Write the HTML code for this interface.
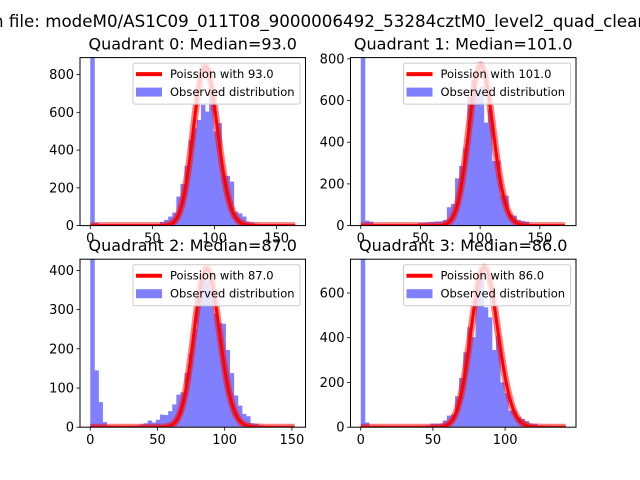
<!DOCTYPE html>
<html><head><meta charset="utf-8"><style>
html,body{margin:0;padding:0;background:#fff;overflow:hidden}
svg{display:block;font-family:"DejaVu Sans","Liberation Sans",sans-serif}
</style></head><body>
<svg id="fig" width="640" height="480" viewBox="0 0 640 480">
<rect x="0" y="0" width="640" height="480" fill="#fff"/>
<text x="-7" y="27" font-size="16.7" fill="#000">n file: modeM0/AS1C09_011T08_9000006492_53284cztM0_level2_quad_clean.evt</text>
</svg>
<script>
const quadTitles = ["Quadrant 0: Median=93.0","Quadrant 1: Median=101.0","Quadrant 2: Median=87.0","Quadrant 3: Median=86.0"];
const medians = [93, 101, 87, 86];
const curvePeaks = [845, 770, 405, 715];
const dataMax = [165, 171.7, 152.5, 142];
const yMax = [890, 806, 428.6, 751];
const q0Counts = [1100,15,2,1,1,1,1,1,1,1,1,2,2,3,3,5,8,20,30,48,69,154,221,316,454,515,560,640,604,701,498,543,269,263,233,74,65,48,21,16,10,5,4,3,2,2,1,1,1,1];
const q1Counts = [1000,24,19,3,2,2,2,2,2,2,3,3,5,8,12,14,16,18,20,20,27,88,104,227,286,371,619,699,651,667,494,558,310,312,147,144,51,48,27,22,19,8,5,4,3,2,2,1,1,1];
const q2Counts = [500,145,64,13,4,2,2,2,2,2,3,4,7,10,17,12,19,32,31,41,58,83,89,138,187,251,340,383,374,351,289,266,264,197,138,81,55,34,28,10,9,5,2,2,1,1,1,1,1,1];
const q3Counts = [900,21,2,1,1,1,1,1,1,1,1,1,1,2,3,5,8,16,16,16,30,52,57,138,220,335,447,402,640,712,536,491,345,409,201,152,74,71,45,37,27,15,15,5,4,3,2,1,1,1];
const counts = [q0Counts, q1Counts, q2Counts, q3Counts];
const xTicks = [[0,50,100,150],[0,50,100,150],[0,50,100,150],[0,50,100]];
const yTicks = [[0,200,400,600,800],[0,200,400,600,800],[0,100,200,300,400],[0,200,400,600]];

const NS = "http://www.w3.org/2000/svg";
const svg = document.getElementById("fig");
function mk(tag, attrs, parent){
  const e = document.createElementNS(NS, tag);
  for (const k in attrs) e.setAttribute(k, attrs[k]);
  (parent||svg).appendChild(e);
  return e;
}
const boxes = [[80,57.6,305.5,225.6],[350.5,57.6,576,225.6],[80,259.2,305.5,427.2],[350.5,259.2,576,427.2]];
function lgamma(n){ let s=0; for(let i=2;i<=n;i++) s+=Math.log(i); return s; }
function pmf(k,mu){ return Math.exp(k*Math.log(mu)-mu-lgamma(k)); }

for (let q=0;q<4;q++){
  const [L,T,R,B] = boxes[q];
  const xmin = -0.05*dataMax[q], xmax = dataMax[q]*1.05;
  const sx = v => L + (v - xmin)/(xmax - xmin)*(R-L);
  const sy = v => B - v/yMax[q]*(B-T);
  const g = mk("g", {});
  
  
  const cid = "clip"+q;
  const cp = mk("clipPath",{id:cid},g);
  mk("rect",{x:L,y:T,width:R-L,height:B-T},cp);
  const plot = mk("g",{"clip-path":"url(#"+cid+")"},g);
  const n = counts[q].length, bw = dataMax[q]/n;
  counts[q].forEach((c,i)=>{
    const x0 = sx(i*bw), x1 = sx((i+1)*bw), y = sy(c);
    const r = mk("rect",{x:x0,y:y,width:x1-x0+0.4,height:B-y,fill:"#8080ff"},plot);
    
    
  });
  const mu = medians[q];
  const scale = curvePeaks[q]/pmf(Math.floor(mu),mu);
  let pts = [];
  for (let k=0;k<=Math.floor(dataMax[q]);k++) pts.push(sx(k).toFixed(2)+","+sy(pmf(k,mu)*scale).toFixed(2));
  const l1 = mk("polyline",{points:pts.join(" "),fill:"none",stroke:"#ff0000","stroke-opacity":0.5,"stroke-width":7,"stroke-linejoin":"round"},plot);
  
  
  const l2 = mk("polyline",{points:pts.join(" "),fill:"none",stroke:"#ff0000","stroke-width":3,"stroke-linejoin":"round"},plot);
  
  
  mk("rect",{x:L,y:T,width:R-L,height:B-T,fill:"none",stroke:"#000","stroke-width":1},g);
  xTicks[q].forEach(v=>{
    const x = sx(v);
    mk("line",{x1:x,y1:B,x2:x,y2:B+3.5,stroke:"#000","stroke-width":0.8},g);
    const t = mk("text",{x:x,y:B+17,"font-size":13,"text-anchor":"middle",fill:"#000"},g);
    t.textContent = v;
    
    
  });
  yTicks[q].forEach(v=>{
    const y = sy(v);
    mk("line",{x1:L-3.5,y1:y,x2:L,y2:y,stroke:"#000","stroke-width":0.8},g);
    const t = mk("text",{x:L-6,y:y+4.5,"font-size":13,"text-anchor":"end",fill:"#000"},g);
    t.textContent = v;
    
    
  });
  const tt = mk("text",{x:(L+R)/2,y:T-8,"font-size":16,"text-anchor":"middle",fill:"#000"},g);
  tt.textContent = quadTitles[q];
  
  
  const lg = mk("g",{},g);
  
  
  const lx = R-5.5-167, ly = T+5.5;
  mk("rect",{x:lx,y:ly,width:167,height:41,rx:2,fill:"#fff","fill-opacity":0.8,stroke:"#cccccc","stroke-width":1},lg);
  mk("line",{x1:lx+3,y1:ly+11,x2:lx+29,y2:ly+11,stroke:"#ff0000","stroke-width":4},lg);
  const t1 = mk("text",{x:lx+37,y:ly+15,"font-size":11.5,fill:"#000"},lg);
  t1.textContent = "Poission with " + mu.toFixed(1);
  
  
  mk("rect",{x:lx+3,y:ly+24.5,width:26,height:9,fill:"#8080ff"},lg);
  const t2 = mk("text",{x:lx+37,y:ly+33,"font-size":11.5,fill:"#000"},lg);
  t2.textContent = "Observed distribution";
  
  
}
</script>
</body></html>
